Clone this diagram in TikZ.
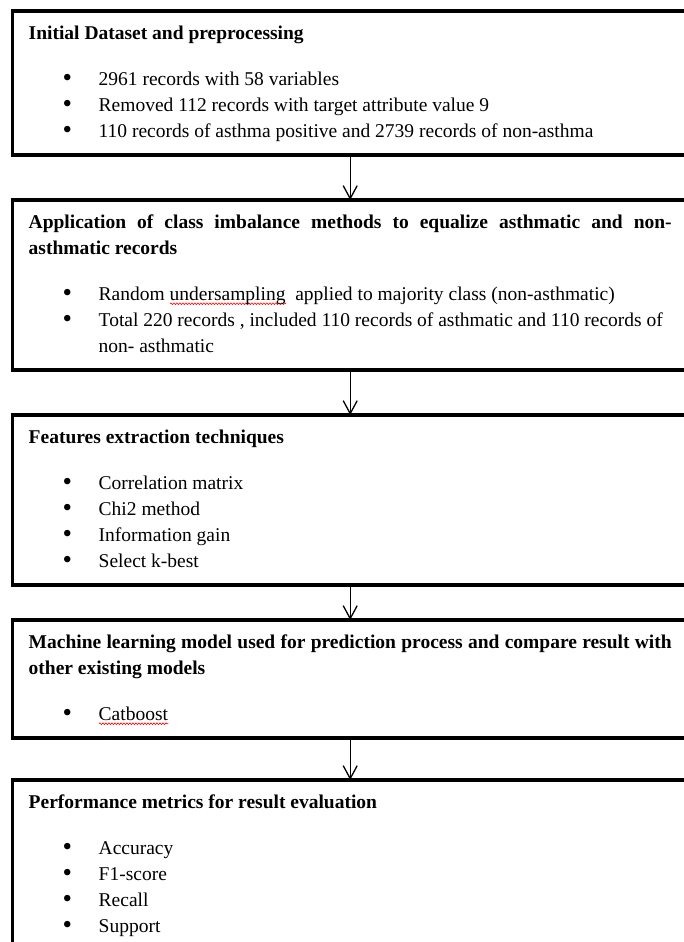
\documentclass[tikz,border=0pt]{standalone}
\usepackage{fontspec}
\setmainfont{Liberation Serif}
\usetikzlibrary{arrows.meta,positioning,decorations.pathmorphing}

\newlength{\wavelen}
\newcommand{\spellwave}[1]{\settowidth{\wavelen}{#1}\rlap{\tikz[baseline=0pt]\draw[draw=red, line width=0.6pt, decorate, decoration={snake, amplitude=0.9pt, segment length=3pt}] (0pt,-3.5pt) -- (\the\wavelen,-3.5pt);}#1}
\newcommand{\stagetitle}[1]{\noindent\textbf{\strut#1\strut}\par\vspace{20pt}}
\newcommand{\bitem}[1]{\par\noindent\hangindent=70pt\hangafter=1\makebox[70pt][l]{\hspace{34pt}\raisebox{-1.2pt}{\fontsize{27}{27}\selectfont\textbullet}}\strut#1\strut\par}

\begin{document}
\begin{tikzpicture}[
        x=1pt, y=1pt,
        font=\fontsize{19.5}{26}\selectfont,
        node distance=45pt,
        stagebox/.style={draw=black, line width=3.5pt, rectangle, align=justify, text width=643pt, inner xsep=16pt, inner ysep=10pt, outer sep=0pt},
        link/.style={draw=black, line width=1.3pt, -{Straight Barb[length=13pt,width=14pt]}}
    ]
        \useasboundingbox (0,0) rectangle (684,-942);

        \node[stagebox, anchor=north west] (dataset) at (12.7,-11) {\stagetitle{Initial Dataset and preprocessing}\bitem{2961 records with 58 variables}\bitem{Removed 112 records with target attribute value 9}\bitem{110 records of asthma positive and 2739 records of non-asthma}};
        \node[stagebox, below=of dataset] (balance) {\stagetitle{Application of class imbalance methods to equalize asthmatic and non-\break asthmatic records}\bitem{Random \spellwave{undersampling}\ \ applied to majority class (non-asthmatic)}\bitem{Total 220 records , included 110 records of asthmatic and 110 records of\hfil\break non- asthmatic}};
        \node[stagebox, below=of balance] (features) {\stagetitle{Features extraction techniques}\bitem{Correlation matrix}\bitem{Chi2 method}\bitem{Information gain}\bitem{Select k-best}};
        \node[stagebox, below=35pt of features] (model) {\stagetitle{Machine learning model used for prediction process and compare result with\break other existing models}\bitem{\spellwave{Catboost}}};
        \node[stagebox, below=42pt of model] (metrics) {\stagetitle{Performance metrics for result evaluation}\bitem{Accuracy}\bitem{F1-score}\bitem{Recall}\bitem{Support}};

        \draw[link] (dataset) -- (balance);
        \draw[link] (balance) -- (features);
        \draw[link] (features) -- (model);
        \draw[link] (model) -- (metrics);
    \end{tikzpicture}
\end{document}
